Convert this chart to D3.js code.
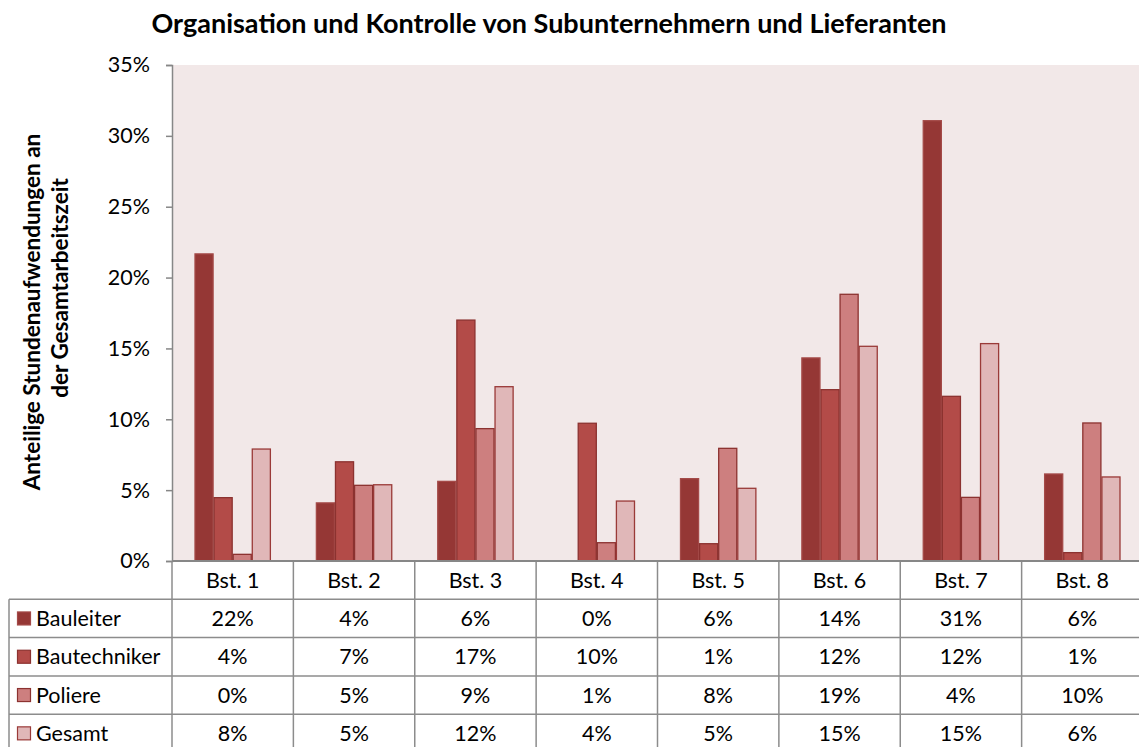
<!DOCTYPE html>
<html>
<head>
<meta charset="utf-8">
<script src="https://cdn.jsdelivr.net/npm/d3@7"></script>
<style>
  html, body { margin: 0; padding: 0; background: #fff; }
  svg { display: block; font-family: Lato, "Open Sans", sans-serif; }
</style>
</head>
<body>
<svg id="chart" width="1139" height="747"></svg>
<script>
// Building sites and staff groups
const categories = ["Bst. 1", "Bst. 2", "Bst. 3", "Bst. 4", "Bst. 5", "Bst. 6", "Bst. 7", "Bst. 8"];
const series = ["Bauleiter", "Bautechniker", "Poliere", "Gesamt"];

// Share of working hours spent on subcontractor / supplier control
const bauleiter    = [0.2167, 0.041, 0.0562, 0.0,    0.0581, 0.1433, 0.3107, 0.0614];
const bautechniker = [0.0447, 0.070, 0.170,  0.0972, 0.0122, 0.1209, 0.1162, 0.0059];
const poliere      = [0.0047, 0.0534, 0.0934, 0.0129, 0.0795, 0.1882, 0.0449, 0.0974];
const gesamt       = [0.079, 0.0538, 0.123,  0.0423, 0.0513, 0.1515, 0.1534, 0.0593];

const yTicks = [0, 0.05, 0.10, 0.15, 0.20, 0.25, 0.30, 0.35];

const values = [bauleiter, bautechniker, poliere, gesamt];
const fills = ["#953735", "#b34b48", "#cd7f7f", "#e0b7b8"];
const strokes = ["#a44a48", "#8c3230", "#8c3230", "#9a3a38"];

const svg = d3.select("#chart");
const plotLeft = 172, plotRight = 1143, plotTop = 65, zero = 561;
const rowH = 38.3;
const fs = 21.5;

const x = d3.scaleBand().domain(categories).range([plotLeft, plotRight]);
const bw = x.bandwidth();
const x1 = d3.scaleBand().domain(series).range([22.5, bw - 22.5]);
const y = d3.scaleLinear().domain([0, 0.35]).range([zero, plotTop]);
const pct = d3.format(".0%");

// plot background
svg.append("rect")
  .attr("x", plotLeft).attr("y", plotTop)
  .attr("width", plotRight - plotLeft).attr("height", zero - plotTop)
  .attr("fill", "#f2e8e8");

// title
svg.append("text")
  .attr("x", 549).attr("y", 33)
  .attr("text-anchor", "middle")
  .attr("font-weight", "bold")
  .attr("font-size", 27)
  .attr("fill", "#000")
  .text("Organisation und Kontrolle von Subunternehmern und Lieferanten");

// y axis
const yAxis = svg.append("g")
  .attr("transform", `translate(${plotLeft},0)`)
  .call(d3.axisLeft(y).tickValues(yTicks).tickFormat(pct).tickSize(6).tickPadding(16));
yAxis.select(".domain").attr("stroke", "#878787").attr("stroke-width", 1.5);
yAxis.selectAll(".tick line").attr("stroke", "#878787").attr("stroke-width", 1.5);
yAxis.selectAll(".tick text")
  .attr("font-size", fs).attr("fill", "#000")
  .attr("font-family", "Lato, 'Open Sans', sans-serif");

// y axis title (two lines)
svg.append("text")
  .attr("transform", "translate(40,312) rotate(-90)")
  .attr("text-anchor", "middle")
  .attr("font-weight", "bold")
  .attr("font-size", 22.5)
  .attr("fill", "#000")
  .text("Anteilige Stundenaufwendungen an");
svg.append("text")
  .attr("transform", "translate(68,288) rotate(-90)")
  .attr("text-anchor", "middle")
  .attr("font-weight", "bold")
  .attr("font-size", 22.5)
  .attr("fill", "#000")
  .text("der Gesamtarbeitszeit");

// bars
const groups = svg.append("g").selectAll("g")
  .data(categories)
  .join("g")
  .attr("transform", d => `translate(${x(d)},0)`);

groups.selectAll("rect")
  .data((c, i) => series.map((s, k) => ({ s, k, v: values[k][i] })).filter(d => d.v > 0))
  .join("rect")
  .attr("x", d => x1(d.s) + 0.5)
  .attr("width", x1.bandwidth() - 1)
  .attr("y", d => y(d.v))
  .attr("height", d => zero - y(d.v))
  .attr("fill", d => fills[d.k])
  .attr("stroke", d => strokes[d.k])
  .attr("stroke-width", 1.3);

// data table below the plot
const grid = "#8c8c8c";
const tbl = svg.append("g").attr("stroke", grid).attr("stroke-width", 1.5).attr("fill", "none");
const tableTop = zero + rowH;

// vertical grid lines at category boundaries
const bounds = categories.map(c => x(c)).concat([plotRight]);
tbl.selectAll("line.v")
  .data(bounds)
  .join("line")
  .attr("class", "v")
  .attr("x1", d => d).attr("x2", d => d)
  .attr("y1", zero).attr("y2", 760);
tbl.append("line").attr("x1", 9).attr("x2", 9).attr("y1", tableTop).attr("y2", 760);

// horizontal row lines
tbl.selectAll("line.h")
  .data(d3.range(4).map(i => tableTop + i * rowH))
  .join("line")
  .attr("class", "h")
  .attr("x1", 9).attr("x2", plotRight)
  .attr("y1", d => d).attr("y2", d => d);

// x axis line
svg.append("line")
  .attr("x1", plotLeft).attr("x2", plotRight)
  .attr("y1", zero).attr("y2", zero)
  .attr("stroke", "#878787").attr("stroke-width", 2);

// category header
svg.append("g").selectAll("text")
  .data(categories)
  .join("text")
  .attr("x", d => x(d) + bw / 2)
  .attr("y", zero + rowH / 2 + 7.5)
  .attr("text-anchor", "middle")
  .attr("font-size", fs)
  .attr("fill", "#000")
  .text(d => d);

// legend column + values
series.forEach((s, k) => {
  const cy = tableTop + k * rowH + rowH / 2;
  svg.append("rect")
    .attr("x", 17.5).attr("y", cy - 6.5)
    .attr("width", 13).attr("height", 13)
    .attr("fill", fills[k])
    .attr("stroke", strokes[k]).attr("stroke-width", 1.2);
  svg.append("text")
    .attr("x", 36).attr("y", cy + 7.5)
    .attr("font-size", fs).attr("fill", "#000")
    .text(s);
  svg.append("g").selectAll("text")
    .data(categories)
    .join("text")
    .attr("x", d => x(d) + bw / 2)
    .attr("y", cy + 7.5)
    .attr("text-anchor", "middle")
    .attr("font-size", fs)
    .attr("fill", "#000")
    .text((d, i) => pct(values[k][i]));
});
</script>
</body>
</html>
